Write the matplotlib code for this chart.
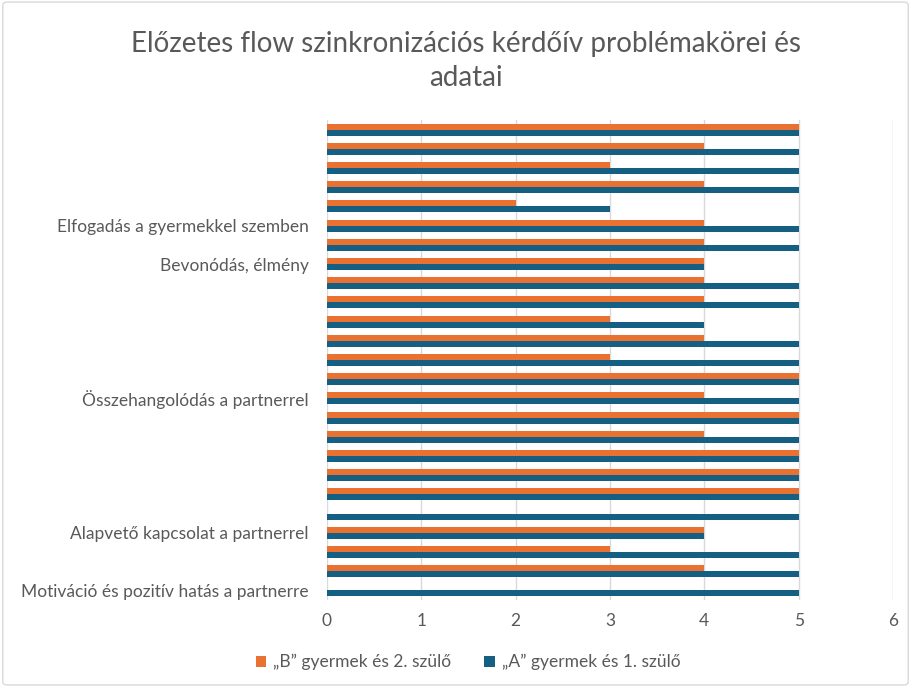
import matplotlib
matplotlib.use("Agg")
import matplotlib.pyplot as plt
from matplotlib.patches import FancyBboxPatch
import numpy as np

# Categories bottom-to-top (matplotlib order)
categories = [
    "Motiváció és pozitív hatás a partnerre", "", "",
    "Alapvető kapcsolat a partnerrel", "", "", "", "", "", "",
    "Összehangolódás a partnerrel", "", "", "", "", "", "",
    "Bevonódás, élmény", "",
    "Elfogadás a gyermekkel szemben", "", "", "", "", "",
]
series_A = [5, 5, 5, 4, 5, 5, 5, 5, 5, 5, 5, 5, 5, 5, 4, 5, 5, 4, 5, 5, 3, 5, 5, 5, 5]
series_B = [0, 4, 3, 4, 0, 5, 5, 5, 4, 5, 4, 5, 3, 4, 3, 4, 4, 4, 4, 4, 2, 4, 3, 4, 5]
label_A = "„A” gyermek és 1. szülő"
label_B = "„B” gyermek és 2. szülő"
xticks = [0, 1, 2, 3, 4, 5, 6]

col_A = "#156082"
col_B = "#E97132"
txt = "#595959"
plt.rcParams['font.family'] = ['Lato', 'DejaVu Sans']

fig = plt.figure(figsize=(9.11, 6.87), dpi=100)
ax = fig.add_axes([327/911, 1-600/687, (893-327)/911, 480/687])

y = np.arange(len(categories))
h = 0.31
bA = ax.barh(y - h/2, series_A, height=h, color=col_A, label=label_A, zorder=3)
bB = ax.barh(y + h/2, series_B, height=h, color=col_B, label=label_B, zorder=3)

ax.set_xlim(0, 6)
ax.set_ylim(-0.5, len(categories) - 0.5)
ax.set_xticks(xticks)
ax.set_yticks(y)
ax.set_yticklabels(categories)
ax.tick_params(axis='both', length=0, colors=txt, labelsize=12.5)
ax.tick_params(axis='x', pad=9)
ax.tick_params(axis='y', pad=13)
for s in ax.spines.values():
    s.set_visible(False)
ax.grid(axis='x', color='#d9d9d9', linewidth=1, zorder=0)
ax.set_axisbelow(True)

fig.text(0.511, 1-61/687, "Előzetes flow szinkronizációs kérdőív problémakörei és\nadatai",
         ha='center', va='center', fontsize=20, color=txt, linespacing=1.35)

fig.legend(handles=[bB, bA], labels=[label_B, label_A], loc='center',
           bbox_to_anchor=(468/911, 1-662/687), ncol=2, frameon=False,
           fontsize=12.5, labelcolor=txt, handlelength=0.6, handleheight=0.6,
           columnspacing=1.9, handletextpad=0.4)

border = FancyBboxPatch((0.003, 0.003), 0.994, 0.994, boxstyle="round,pad=0,rounding_size=0.005",
                        transform=fig.transFigure, fill=False, edgecolor='#d9d9d9', linewidth=1)
fig.patches.append(border)

fig.savefig("out.png", dpi=100)
